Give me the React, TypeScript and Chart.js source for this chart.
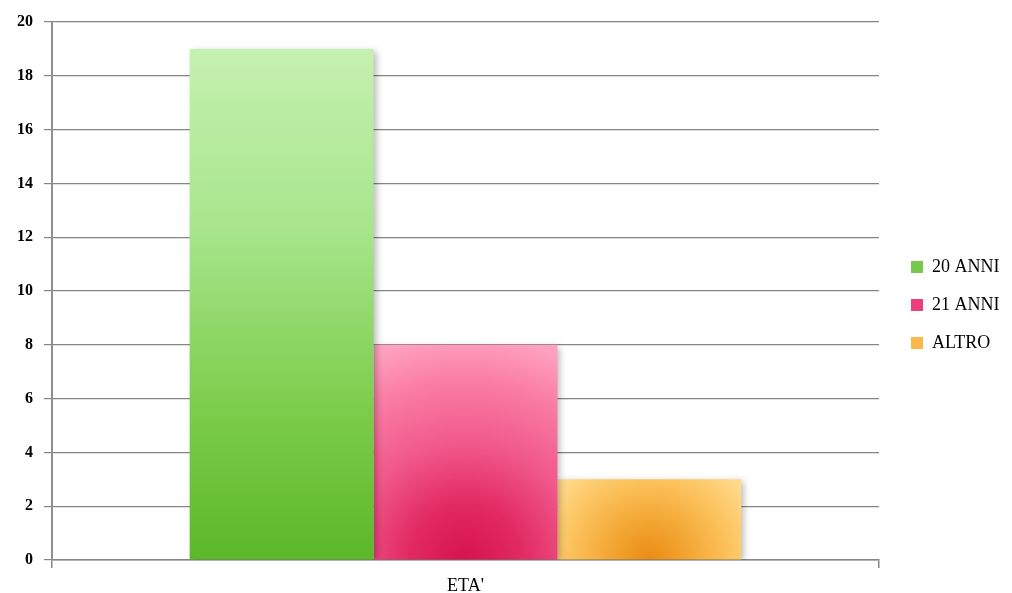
import React, { useEffect, useRef } from "react";
import { Chart, registerables } from "chart.js";

Chart.register(...registerables);

const categories = ["ETA'"];
const seriesLabels = ["20 ANNI", "21 ANNI", "ALTRO"];
const values20 = [19];
const values21 = [8];
const valuesAltro = [3];
const yTicksMax = 20;
const yTicksStep = 2;

const CAT_PCT = 0.667;
const GRID = "#858585";
const LEGEND_COLORS = ["#79c94c", "#ec3f78", "#f9b848"];
const SERIF = "'Liberation Serif', 'DejaVu Serif', serif";

function makeFill(i: number) {
  return (ctx: any) => {
    const chart = ctx.chart;
    const area = chart.chartArea;
    if (!area || ctx.raw == null) return LEGEND_COLORS[i];
    const c = chart.ctx as CanvasRenderingContext2D;
    const ys = chart.scales.y;
    const catW = area.right - area.left;
    const barW = (catW * CAT_PCT) / 3;
    const left = area.left + (catW * (1 - CAT_PCT)) / 2 + barW * i;
    const cx = left + barW / 2;
    const top = ys.getPixelForValue(ctx.raw);
    const bottom = ys.getPixelForValue(0);
    const h = bottom - top;
    if (i === 0) {
      const g = c.createLinearGradient(0, top, 0, bottom);
      g.addColorStop(0, "#c5f1b0");
      g.addColorStop(0.35, "#a8e58c");
      g.addColorStop(0.7, "#7ccd4c");
      g.addColorStop(1, "#5cb827");
      return g;
    }
    if (i === 1) {
      const g = c.createRadialGradient(cx, bottom, 0, cx, bottom, h * 1.05);
      g.addColorStop(0, "#d6134e");
      g.addColorStop(0.25, "#e22a62");
      g.addColorStop(0.5, "#f0568a");
      g.addColorStop(0.8, "#fa7ea6");
      g.addColorStop(1, "#ffa2c1");
      return g;
    }
    const g = c.createRadialGradient(cx, bottom, 0, cx, bottom, Math.max(h, barW * 0.6) * 1.05);
    g.addColorStop(0, "#e88c14");
    g.addColorStop(0.35, "#f3a733");
    g.addColorStop(0.7, "#fcc35e");
    g.addColorStop(1, "#ffd98c");
    return g;
  };
}

const shadowPlugin = {
  id: "barShadow",
  beforeDatasetsDraw(chart: any) {
    const c = chart.ctx;
    c.save();
    c.shadowColor = "rgba(0,0,0,0.28)";
    c.shadowBlur = 7;
    c.shadowOffsetX = 3;
    c.shadowOffsetY = 2;
  },
  afterDatasetsDraw(chart: any) {
    chart.ctx.restore();
  },
};

const legendPlacePlugin = {
  id: "legendPlace",
  beforeInit(chart: any) {
    const lg = chart.legend;
    if (!lg) return;
    const orig = lg.fit;
    lg.fit = function () {
      orig.call(this);
      this.width = 133;
    };
  },
  afterLayout(chart: any) {
    const lg = chart.legend;
    if (!lg) return;
    const w = lg.width;
    const h = lg.height;
    lg.left = 891;
    lg.right = lg.left + w;
    lg.top = 238;
    lg.bottom = lg.top + h;
  },
};

export default function App() {
  const ref = useRef<HTMLCanvasElement | null>(null);

  useEffect(() => {
    document.body.style.margin = "0";
    const canvas = ref.current;
    if (!canvas) return;
    const chart = new Chart(canvas, {
      type: "bar",
      data: {
        labels: categories,
        datasets: [
          { label: seriesLabels[0], data: values20, backgroundColor: makeFill(0) as any },
          { label: seriesLabels[1], data: values21, backgroundColor: makeFill(1) as any },
          { label: seriesLabels[2], data: valuesAltro, backgroundColor: makeFill(2) as any },
        ],
      },
      options: {
        responsive: false,
        animation: false,
        layout: { padding: { top: 22, left: 0, right: 0, bottom: 0 } },
        datasets: {
          bar: { categoryPercentage: CAT_PCT, barPercentage: 1.0, borderWidth: 0 },
        },
        plugins: {
          tooltip: { enabled: false },
          legend: {
            position: "right",
            align: "start",
            labels: {
              boxWidth: 12,
              boxHeight: 12,
              padding: 20,
              color: "#000",
              font: { family: SERIF, size: 18 },
              generateLabels: (chart: any) =>
                chart.data.datasets.map((ds: any, i: number) => ({
                  text: ds.label,
                  fillStyle: LEGEND_COLORS[i],
                  strokeStyle: LEGEND_COLORS[i],
                  lineWidth: 0,
                  hidden: false,
                  datasetIndex: i,
                  fontColor: "#000",
                })),
            },
          },
        },
        scales: {
          x: {
            offset: true,
            grid: { display: true, drawOnChartArea: false, drawTicks: true, tickLength: 8, color: GRID, offset: true, lineWidth: 1.5 },
            border: { display: true, color: GRID, width: 1.5 },
            ticks: { color: "#000", padding: 7, font: { family: SERIF, size: 18 } },
            afterFit: (s: any) => {
              s.height = 33;
            },
          },
          y: {
            min: 0,
            max: yTicksMax,
            ticks: { stepSize: yTicksStep, color: "#000", padding: 11, font: { family: SERIF, size: 16, weight: "bold" } },
            grid: { color: GRID, tickLength: 8, drawTicks: true, lineWidth: 1.2 },
            border: { display: true, color: "#909090", width: 2 },
            afterFit: (s: any) => {
              s.width = 52;
            },
          },
        },
      },
      plugins: [shadowPlugin, legendPlacePlugin],
    });
    return () => chart.destroy();
  }, []);

  return (
    <div style={{ position: "fixed", left: 0, top: 0, width: 1012, height: 593, background: "#fff" }}>
      <canvas ref={ref} width={1012} height={593} />
    </div>
  );
}
